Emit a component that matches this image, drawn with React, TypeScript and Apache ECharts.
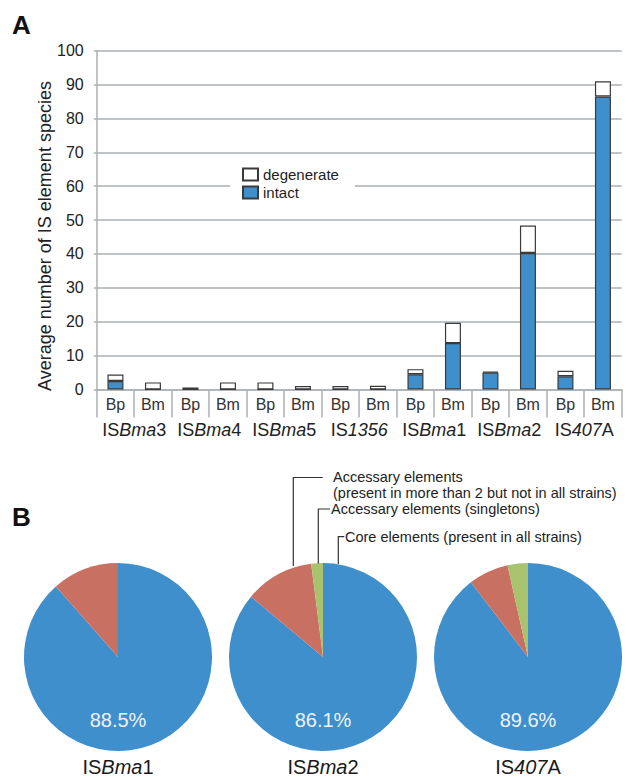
import React, { useEffect, useRef } from "react";
import * as echarts from "echarts";

const strains = ["Bp", "Bm", "Bp", "Bm", "Bp", "Bm", "Bp", "Bm", "Bp", "Bm", "Bp", "Bm", "Bp", "Bm"];
const groupLabels = ["IS{i|Bma}3", "IS{i|Bma}4", "IS{i|Bma}5", "IS{i|1356}", "IS{i|Bma}1", "IS{i|Bma}2", "IS{i|407}A"];
const intact = [2.5, 0, 0, 0, 0, 0, 0, 0, 4.5, 13.7, 5.0, 40.3, 3.9, 86.5];
const degenerate = [1.9, 2.1, 0.6, 2.1, 2.1, 1.0, 1.0, 1.1, 1.5, 6.0, 0.3, 8.1, 1.6, 4.5];
const yTitle = "Average number of IS element species";

const pieNames = ["IS{i|Bma}1", "IS{i|Bma}2", "IS{i|407}A"];
const coreShare = [88.5, 86.1, 89.6];
const accessaryShare = [11.5, 11.9, 6.9];
const singletonShare = [0, 2.0, 3.5];

const FONT = "Liberation Sans, Arial, Helvetica, sans-serif";
const GRID_GRAY = "#adb1b4";
const BLUE = "#3f8fcd";
const RED = "#c87062";
const GREEN = "#a8c26e";

export default function App() {
  const ref = useRef<HTMLDivElement>(null);
  useEffect(() => {
    if (!ref.current) return;
    const chart = echarts.init(ref.current, null, { renderer: "svg" });
    const pieCenters = [118, 323, 528];
    const pieSeries = pieCenters.map((cx, i) => ({
      type: "pie",
      center: [cx, 657],
      radius: 94,
      startAngle: 90,
      clockwise: true,
      silent: true,
      z: 1,
      label: { show: false },
      labelLine: { show: false },
      itemStyle: { borderWidth: 0 },
      data: [
        { value: coreShare[i], itemStyle: { color: BLUE } },
        { value: accessaryShare[i], itemStyle: { color: RED } },
        ...(singletonShare[i] > 0 ? [{ value: singletonShare[i], itemStyle: { color: GREEN } }] : []),
      ],
    }));

    const graphics: any[] = [
      { type: "text", z: 100, left: 12, top: 12, style: { text: "A", font: `bold 26px ${FONT}`, fill: "#111" } },
      { type: "text", z: 100, left: 12, top: 504, style: { text: "B", font: `bold 26px ${FONT}`, fill: "#111" } },
      {
        type: "text",
        z: 100,
        x: 45,
        y: 236,
        rotation: Math.PI / 2,
        style: { text: yTitle, font: `18px ${FONT}`, fill: "#222", align: "center", verticalAlign: "middle" },
      },
    ];
    pieCenters.forEach((cx, i) => {
      graphics.push({
        type: "text",
        z: 100,
        x: cx,
        y: 720,
        style: { text: `${coreShare[i]}%`, font: `20px ${FONT}`, fill: "#eef3fa", align: "center", verticalAlign: "middle" },
      });
      graphics.push({
        type: "text",
        z: 100,
        x: cx,
        y: 767,
        style: {
          text: pieNames[i],
          font: `20px ${FONT}`,
          fill: "#1a1a1a",
          align: "center",
          verticalAlign: "middle",
          rich: { i: { fontStyle: "italic", fontSize: 20, fontFamily: FONT, fill: "#1a1a1a" } },
        },
      });
    });
    const lineStyle = { stroke: "#333", lineWidth: 1.2, fill: null };
    graphics.push(
      { type: "polyline", z: 100, shape: { points: [[322.7, 477.5], [293.3, 477.5], [293.3, 566]] }, style: lineStyle },
      { type: "polyline", z: 100, shape: { points: [[330, 509], [318.3, 509], [318.3, 563.5]] }, style: lineStyle },
      { type: "polyline", z: 100, shape: { points: [[344.3, 536.7], [338.3, 536.7], [338.3, 564]] }, style: lineStyle }
    );
    const annStyle = { font: `14.5px ${FONT}`, fill: "#222", verticalAlign: "middle", align: "left" };
    graphics.push(
      { type: "text", z: 100, x: 333, y: 477, style: { ...annStyle, text: "Accessary elements" } },
      { type: "text", z: 100, x: 333, y: 492.5, style: { ...annStyle, text: "(present in more than 2 but not in all strains)" } },
      { type: "text", z: 100, x: 331, y: 509, style: { ...annStyle, text: "Accessary elements (singletons)" } },
      { type: "text", z: 100, x: 345, y: 537, style: { ...annStyle, text: "Core elements (present in all strains)" } }
    );

    chart.setOption({
      animation: false,
      textStyle: { fontFamily: FONT },
      grid: { left: 96.7, right: 21.3, top: 50.7, bottom: 387.5, containLabel: false },
      legend: {
        data: ["degenerate", "intact"],
        orient: "vertical",
        left: 230,
        top: 163,
        itemWidth: 15,
        itemHeight: 12,
        itemGap: 3,
        icon: "rect",
        selectedMode: false,
        backgroundColor: "#fff",
        padding: [4, 16, 4, 12],
        textStyle: { fontSize: 15, color: "#222", fontFamily: FONT },
      },
      xAxis: [
        {
          type: "category",
          data: strains,
          boundaryGap: true,
          axisLine: { show: true, lineStyle: { color: GRID_GRAY, width: 1.5 } },
          axisTick: { show: true, length: 28, interval: 0, lineStyle: { color: GRID_GRAY, width: 1.5 } },
          axisLabel: { interval: 0, fontSize: 16, color: "#333", margin: 6.5, fontFamily: FONT },
        },
        {
          type: "category",
          data: groupLabels,
          position: "bottom",
          boundaryGap: true,
          axisLine: { show: false },
          axisTick: { show: false },
          axisLabel: {
            interval: 0,
            fontSize: 18,
            color: "#222",
            margin: 31,
            fontFamily: FONT,
            formatter: (v: string) => v,
            rich: { i: { fontStyle: "italic", fontSize: 18, color: "#222", fontFamily: FONT } },
          },
        },
      ],
      yAxis: {
        type: "value",
        min: 0,
        max: 100,
        interval: 10,
        axisLine: { show: true, lineStyle: { color: GRID_GRAY, width: 1.5 } },
        axisTick: { show: true, length: 3, lineStyle: { color: GRID_GRAY, width: 1.5 } },
        splitLine: { show: true, lineStyle: { color: GRID_GRAY, width: 1.5 } },
        axisLabel: { fontSize: 16, color: "#222", margin: 13, fontFamily: FONT },
      },
      series: [
        {
          name: "intact",
          type: "bar",
          stack: "total",
          barWidth: 16,
          xAxisIndex: 0,
          data: intact,
          itemStyle: { color: BLUE, borderColor: "#3a3a3a", borderWidth: 1.2 },
        },
        {
          name: "degenerate",
          type: "bar",
          stack: "total",
          barWidth: 16,
          xAxisIndex: 0,
          data: degenerate,
          itemStyle: { color: "#fff", borderColor: "#3a3a3a", borderWidth: 1.2 },
        },
        ...pieSeries,
      ],
      graphic: graphics,
    });
    return () => chart.dispose();
  }, []);
  return (
    <div
      ref={ref}
      style={{ position: "fixed", left: 0, top: 0, width: 643, height: 777, background: "#fff" }}
    />
  );
}
